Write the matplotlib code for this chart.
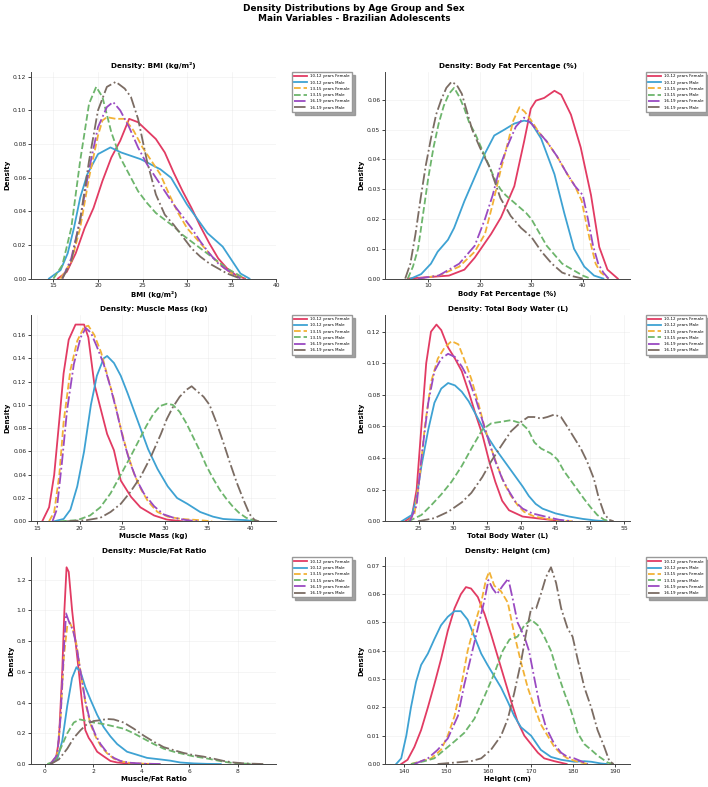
import matplotlib
matplotlib.use("Agg")
import matplotlib.pyplot as plt

# --- groups / styles ---
groups = ["10-12 years Female", "10-12 years Male", "13-15 years Female",
          "13-15 years Male", "16-19 years Female", "16-19 years Male"]
colors = ["#E23B63", "#3EA2D3", "#F2B236", "#6DB56C", "#9A4AC2", "#7B6C63"]
styles = ["-", "-", "--", "--", "-.", "-."]

# --- BMI (kg/m²): density curves ---
bmi_x_f10 = [15.5, 16.5, 17.5, 18.5, 19.5, 20.5, 21.5, 22.5, 23.5, 24.5, 25.5, 26.5, 27.5, 28.5, 29.5, 30.5, 31.5, 32.5, 33.5, 34.5, 35.5, 36.5]
bmi_y_f10 = [0, 0.004, 0.015, 0.03, 0.042, 0.058, 0.072, 0.082, 0.095, 0.093, 0.088, 0.083, 0.075, 0.063, 0.052, 0.042, 0.031, 0.021, 0.012, 0.006, 0.002, 0]
bmi_x_m10 = [14.5, 15.8, 16.6, 17.3, 18.0, 18.8, 20.0, 21.4, 22.6, 24.8, 27.0, 28.2, 30.0, 32.3, 34.0, 35.0, 36.0, 37.0]
bmi_y_m10 = [0, 0.005, 0.015, 0.03, 0.048, 0.062, 0.074, 0.078, 0.075, 0.071, 0.065, 0.06, 0.044, 0.027, 0.019, 0.011, 0.003, 0]
bmi_x_f13 = [15.8, 17, 18, 19, 20, 20.5, 21, 22, 23, 24, 25, 26, 27, 28, 29, 30, 31, 32, 33, 34, 35, 36, 36.5]
bmi_y_f13 = [0, 0.01, 0.03, 0.06, 0.085, 0.094, 0.096, 0.095, 0.095, 0.088, 0.078, 0.07, 0.062, 0.05, 0.039, 0.03, 0.024, 0.018, 0.012, 0.007, 0.003, 0.001, 0]
bmi_x_m13 = [15, 16, 17, 18, 19, 19.8, 20.5, 21.5, 22.5, 23.5, 24.5, 25.5, 26.5, 27.5, 28.5, 29.5, 30.5, 31.5, 32.5, 33.5, 34.5, 35.5, 36.5]
bmi_y_m13 = [0, 0.008, 0.03, 0.07, 0.104, 0.114, 0.108, 0.087, 0.072, 0.062, 0.052, 0.045, 0.039, 0.035, 0.031, 0.026, 0.022, 0.018, 0.014, 0.01, 0.006, 0.003, 0]
bmi_x_f16 = [16, 17, 18, 19, 20, 21, 21.7, 22.5, 23.5, 24.5, 25.5, 26.5, 27.5, 28.5, 29.5, 30.5, 31.5, 32.5, 33.5, 34.5, 35.5, 36]
bmi_y_f16 = [0, 0.012, 0.035, 0.065, 0.09, 0.102, 0.105, 0.1, 0.09, 0.078, 0.068, 0.06, 0.052, 0.044, 0.037, 0.03, 0.022, 0.015, 0.009, 0.005, 0.002, 0]
bmi_x_m16 = [16, 17, 18, 19, 20, 21, 22, 23, 23.7, 24.5, 25.5, 26.5, 27.5, 28.5, 29.5, 30.5, 31.5, 32.5, 33.5, 34.5, 35.5, 36]
bmi_y_m16 = [0, 0.01, 0.035, 0.07, 0.1, 0.114, 0.117, 0.113, 0.108, 0.095, 0.07, 0.05, 0.038, 0.032, 0.025, 0.018, 0.013, 0.009, 0.006, 0.003, 0.001, 0]

# --- Body Fat Percentage (%) ---
fat_x_f10 = [6, 10, 14, 17, 19, 21, 22.2, 24.1, 26.7, 28.6, 29.9, 30.9, 32.5, 34.5, 35.8, 37.7, 39.6, 41.6, 43.2, 44.8, 46.8]
fat_y_f10 = [0, 0.0005, 0.001, 0.003, 0.007, 0.012, 0.015, 0.0205, 0.031, 0.046, 0.057, 0.0597, 0.0606, 0.063, 0.0617, 0.055, 0.044, 0.028, 0.0106, 0.003, 0]
fat_x_m10 = [6.6, 8.6, 10.5, 11.8, 13.8, 15, 17, 19, 21, 22.8, 24.8, 26.7, 28.6, 29.9, 31.9, 34.5, 36.4, 38.3, 40.3, 42.2, 44]
fat_y_m10 = [0, 0.0015, 0.005, 0.009, 0.013, 0.017, 0.026, 0.034, 0.042, 0.048, 0.05, 0.052, 0.053, 0.0525, 0.047, 0.035, 0.022, 0.01, 0.004, 0.001, 0]
fat_x_f13 = [8, 12, 16, 19, 21, 22.5, 24, 25.5, 26.5, 27.7, 28.7, 30, 31.5, 33, 35, 37, 38.5, 39.8, 40.5, 41.5, 42.5, 43.5, 45]
fat_y_f13 = [0, 0.001, 0.004, 0.009, 0.015, 0.025, 0.036, 0.046, 0.053, 0.0575, 0.056, 0.053, 0.049, 0.046, 0.041, 0.035, 0.031, 0.026, 0.02, 0.012, 0.005, 0.002, 0]
fat_x_m13 = [6, 7, 8, 9, 10, 11, 12, 13, 14, 15, 16, 17, 18, 19, 20, 21, 22, 23, 24, 25, 26, 27, 28, 29, 30, 31, 32, 33, 34, 35, 36, 37, 38, 39, 40, 41.5]
fat_y_m13 = [0, 0.004, 0.01, 0.022, 0.034, 0.044, 0.052, 0.058, 0.062, 0.064, 0.061, 0.057, 0.052, 0.049, 0.045, 0.041, 0.037, 0.033, 0.03, 0.028, 0.0265, 0.025, 0.0235, 0.022, 0.02, 0.017, 0.014, 0.011, 0.009, 0.007, 0.005, 0.004, 0.003, 0.002, 0.001, 0]
fat_x_f16 = [8, 12, 16, 19, 21, 22.5, 24, 25.5, 27, 28.6, 30, 31.5, 33, 35, 37, 38.5, 40, 41, 42, 43, 44, 45]
fat_y_f16 = [0, 0.001, 0.005, 0.011, 0.02, 0.028, 0.038, 0.045, 0.051, 0.054, 0.052, 0.049, 0.046, 0.041, 0.035, 0.031, 0.028, 0.02, 0.011, 0.005, 0.002, 0]
fat_x_m16 = [5.5, 6.5, 7.5, 8.5, 9.5, 10.5, 11.5, 12.5, 13.5, 14.5, 15.5, 16.5, 17.5, 18.5, 20, 22, 24, 26, 28, 30, 32, 34, 36, 38, 40]
fat_y_m16 = [0, 0.005, 0.015, 0.027, 0.038, 0.047, 0.055, 0.06, 0.064, 0.066, 0.065, 0.062, 0.056, 0.05, 0.044, 0.037, 0.027, 0.021, 0.017, 0.014, 0.009, 0.005, 0.002, 0.0008, 0]

# --- Muscle Mass (kg) ---
mus_x_f10 = [15.6, 16.4, 17.0, 17.6, 18.1, 18.7, 19.5, 20.5, 21.0, 21.7, 22.5, 23.2, 24.0, 24.8, 26.0, 27.1, 28.7, 30.2, 32]
mus_y_f10 = [0, 0.012, 0.04, 0.087, 0.127, 0.156, 0.169, 0.169, 0.158, 0.118, 0.095, 0.075, 0.061, 0.035, 0.021, 0.012, 0.005, 0.0015, 0]
mus_x_m10 = [17, 18.1, 18.9, 19.7, 20.5, 21.3, 22, 22.8, 23.2, 24, 24.8, 25.6, 26.4, 27.2, 28, 29.1, 30.3, 31.4, 32.6, 34.1, 35.6, 36.8, 37.9, 39.5, 40.3]
mus_y_m10 = [0, 0.002, 0.01, 0.03, 0.06, 0.1, 0.125, 0.14, 0.142, 0.136, 0.125, 0.11, 0.094, 0.078, 0.062, 0.045, 0.03, 0.02, 0.015, 0.008, 0.004, 0.002, 0.0015, 0.001, 0]
mus_x_f13 = [16.4, 17, 17.6, 18.1, 18.9, 19.7, 20.5, 21, 21.7, 22.5, 23.2, 24, 24.8, 25.6, 26.4, 27.2, 28, 29.1, 30.3, 31.9, 34, 35.5]
mus_y_f13 = [0, 0.008, 0.04, 0.085, 0.13, 0.155, 0.167, 0.168, 0.16, 0.145, 0.126, 0.105, 0.08, 0.058, 0.04, 0.027, 0.017, 0.008, 0.004, 0.002, 0.001, 0]
mus_x_m13 = [17.7, 19.7, 21.2, 22.4, 23.6, 24.8, 25.9, 27.1, 27.8, 28.6, 29.4, 30.2, 30.9, 31.7, 32.5, 33.3, 34.1, 34.8, 35.6, 36.4, 37.2, 38, 38.7, 39.5, 40.3, 41]
mus_y_m13 = [0, 0.001, 0.005, 0.012, 0.024, 0.04, 0.055, 0.072, 0.082, 0.092, 0.099, 0.101, 0.1, 0.094, 0.084, 0.072, 0.06, 0.048, 0.037, 0.027, 0.019, 0.012, 0.007, 0.003, 0.001, 0]
mus_x_f16 = [16.8, 17.3, 17.9, 18.5, 19.3, 20.1, 20.7, 21.3, 22, 22.8, 23.6, 24.4, 25.1, 25.9, 26.7, 27.5, 28.7, 29.8, 31, 32.5, 34]
mus_y_f16 = [0, 0.01, 0.05, 0.095, 0.135, 0.158, 0.166, 0.162, 0.15, 0.135, 0.115, 0.092, 0.07, 0.05, 0.035, 0.024, 0.013, 0.006, 0.003, 0.001, 0]
mus_x_m16 = [18.5, 20.8, 22.4, 23.6, 24.8, 25.9, 27.1, 28.3, 29.5, 30.2, 30.9, 31.7, 32.5, 33.1, 33.7, 34.5, 35.2, 36, 36.8, 37.6, 38.4, 39.2, 39.9, 40.5, 41]
mus_y_m16 = [0, 0.001, 0.003, 0.008, 0.015, 0.025, 0.038, 0.055, 0.075, 0.088, 0.098, 0.107, 0.113, 0.116, 0.112, 0.107, 0.1, 0.085, 0.068, 0.05, 0.033, 0.018, 0.006, 0.001, 0]

# --- Total Body Water (L) ---
tbw_x_f10 = [23, 24, 24.7, 25.4, 26.1, 26.8, 27.6, 28.3, 29.3, 30.3, 31.3, 32.3, 33.3, 34.3, 35.3, 36.2, 37.2, 38.2, 39.2, 40.2, 42.1, 44.1, 46]
tbw_y_f10 = [0, 0.003, 0.02, 0.06, 0.1, 0.12, 0.1245, 0.121, 0.11, 0.103, 0.095, 0.082, 0.068, 0.055, 0.038, 0.025, 0.013, 0.007, 0.005, 0.003, 0.002, 0.001, 0]
tbw_x_m10 = [22.5, 24, 24.7, 25.4, 26.4, 27.3, 28.3, 29.3, 30.3, 31.3, 32.3, 33.3, 34.3, 35.3, 36.2, 37.2, 38.2, 39.2, 40.2, 41.1, 42.1, 43.1, 45, 47, 49, 50.9, 52.5]
tbw_y_m10 = [0, 0.004, 0.015, 0.035, 0.058, 0.075, 0.084, 0.0875, 0.086, 0.082, 0.076, 0.068, 0.06, 0.052, 0.046, 0.04, 0.034, 0.028, 0.022, 0.016, 0.011, 0.008, 0.005, 0.003, 0.0015, 0.0005, 0]
tbw_x_f13 = [23.5, 24.4, 25.2, 25.9, 26.8, 27.8, 28.8, 29.8, 30.8, 31.7, 32.7, 33.7, 34.6, 35.6, 36.6, 37.5, 38.5, 39.5, 40.4, 41.9, 43.8, 45.8, 47.5]
tbw_y_f13 = [0, 0.005, 0.03, 0.06, 0.088, 0.103, 0.11, 0.114, 0.112, 0.102, 0.09, 0.075, 0.06, 0.046, 0.034, 0.024, 0.016, 0.01, 0.006, 0.003, 0.0015, 0.0005, 0]
tbw_x_m13 = [23.5, 25.4, 26.8, 28.3, 29.8, 31.3, 32.7, 34.3, 35.6, 37.1, 38.5, 40, 41, 41.9, 42.9, 44.3, 45.3, 46.2, 47.2, 48.2, 49.2, 50.1, 51.1, 52.1, 53]
tbw_y_m13 = [0, 0.004, 0.01, 0.017, 0.025, 0.035, 0.046, 0.058, 0.062, 0.063, 0.064, 0.062, 0.058, 0.05, 0.046, 0.043, 0.039, 0.032, 0.026, 0.02, 0.014, 0.009, 0.004, 0.001, 0]
tbw_x_f16 = [23.7, 24.7, 25.4, 26.4, 27.3, 28.3, 29.3, 30.3, 31.3, 32.3, 33.3, 34.3, 35.3, 36.2, 37.2, 38.2, 39.2, 40.2, 41.6, 43.5, 45.5, 47.5]
tbw_y_f16 = [0, 0.01, 0.04, 0.075, 0.095, 0.103, 0.106, 0.104, 0.098, 0.09, 0.078, 0.064, 0.05, 0.038, 0.027, 0.019, 0.012, 0.008, 0.005, 0.003, 0.001, 0]
tbw_x_m16 = [24.9, 27.3, 29.3, 31.3, 32.7, 34.3, 35.6, 37.1, 38.5, 40, 41, 41.9, 42.9, 43.8, 44.8, 45.8, 46.7, 47.7, 48.7, 49.6, 50.6, 51.3, 52.1, 52.8, 53.5]
tbw_y_m16 = [0, 0.002, 0.006, 0.012, 0.018, 0.028, 0.038, 0.048, 0.057, 0.063, 0.066, 0.066, 0.065, 0.066, 0.0675, 0.066, 0.06, 0.053, 0.046, 0.038, 0.027, 0.015, 0.005, 0.001, 0]

# --- Muscle/Fat Ratio ---
mfr_x_f10 = [0.23, 0.44, 0.58, 0.72, 0.81, 0.9, 0.99, 1.13, 1.27, 1.41, 1.54, 1.68, 1.82, 1.95, 2.17, 2.44, 2.72, 3.0, 3.4, 4.0, 4.6]
mfr_y_f10 = [0, 0.02, 0.15, 0.6, 1.0, 1.28, 1.25, 1.0, 0.8, 0.6, 0.4, 0.22, 0.17, 0.14, 0.08, 0.05, 0.02, 0.01, 0.004, 0.001, 0]
mfr_x_m10 = [0.23, 0.51, 0.72, 0.93, 1.13, 1.31, 1.48, 1.68, 1.89, 2.17, 2.44, 2.72, 3.0, 3.41, 3.83, 4.24, 4.79, 5.2, 5.62, 6.17, 6.73, 7.3]
mfr_y_m10 = [0, 0.03, 0.15, 0.38, 0.56, 0.63, 0.6, 0.5, 0.42, 0.32, 0.24, 0.18, 0.13, 0.08, 0.06, 0.04, 0.03, 0.022, 0.01, 0.004, 0.001, 0]
mfr_x_f13 = [0.23, 0.51, 0.65, 0.79, 0.93, 1.04, 1.17, 1.31, 1.48, 1.68, 1.89, 2.1, 2.31, 2.58, 2.86, 3.14, 3.55, 4.1, 4.8]
mfr_y_f13 = [0, 0.06, 0.3, 0.7, 0.9, 0.92, 0.87, 0.78, 0.6, 0.4, 0.26, 0.18, 0.12, 0.07, 0.035, 0.018, 0.007, 0.002, 0]
mfr_x_m13 = [0.1, 0.44, 0.65, 0.93, 1.2, 1.45, 1.75, 2.03, 2.44, 2.86, 3.27, 3.69, 4.1, 4.52, 4.93, 5.35, 5.76, 6.17, 6.59, 7.0, 7.42, 7.83, 8.38, 9.07]
mfr_y_m13 = [0, 0.02, 0.1, 0.2, 0.27, 0.29, 0.28, 0.27, 0.26, 0.245, 0.23, 0.2, 0.165, 0.13, 0.1, 0.08, 0.065, 0.05, 0.04, 0.028, 0.015, 0.006, 0.002, 0]
mfr_x_f16 = [0.23, 0.51, 0.65, 0.79, 0.88, 0.99, 1.17, 1.31, 1.48, 1.68, 1.89, 2.1, 2.31, 2.58, 2.86, 3.14, 3.55, 4.1, 4.8]
mfr_y_f16 = [0, 0.06, 0.3, 0.75, 0.98, 0.93, 0.87, 0.77, 0.6, 0.41, 0.27, 0.19, 0.13, 0.075, 0.04, 0.02, 0.008, 0.002, 0]
mfr_x_m16 = [0.23, 0.58, 0.93, 1.2, 1.48, 1.75, 2.03, 2.31, 2.58, 2.86, 3.27, 3.69, 4.1, 4.52, 4.93, 5.35, 5.76, 6.17, 6.59, 7.0, 7.42, 7.83, 8.38, 9.07]
mfr_y_m16 = [0, 0.03, 0.1, 0.17, 0.22, 0.26, 0.28, 0.285, 0.293, 0.29, 0.27, 0.23, 0.185, 0.145, 0.11, 0.09, 0.072, 0.058, 0.048, 0.035, 0.02, 0.01, 0.003, 0]

# --- Height (cm) ---
hgt_x_f10 = [139.4, 140.9, 142.5, 144.1, 145.7, 147.2, 148.8, 150.4, 152, 153.5, 154.7, 155.9, 157.5, 159.1, 160.6, 162.2, 163.8, 165.4, 166.9, 168.5, 170.1, 171.7, 173.2, 175.6, 178.5]
hgt_y_f10 = [0, 0.0015, 0.006, 0.012, 0.02, 0.028, 0.037, 0.047, 0.055, 0.06, 0.0625, 0.062, 0.059, 0.053, 0.046, 0.038, 0.03, 0.022, 0.015, 0.01, 0.007, 0.004, 0.002, 0.001, 0]
hgt_x_m10 = [138.2, 139.4, 140.6, 141.7, 142.9, 144.1, 145.7, 147.2, 148.8, 150.4, 152, 153.5, 155.1, 156.7, 158.3, 159.8, 161.4, 163, 164.6, 166.1, 167.7, 170.1, 172.4, 174.8, 177.2, 180.3, 182.7, 184.3, 186.6, 188]
hgt_y_m10 = [0, 0.002, 0.01, 0.02, 0.029, 0.035, 0.039, 0.044, 0.049, 0.052, 0.054, 0.054, 0.051, 0.045, 0.039, 0.035, 0.031, 0.027, 0.022, 0.017, 0.013, 0.01, 0.005, 0.0025, 0.0015, 0.0008, 0.001, 0.0008, 0.0002, 0]
hgt_x_f13 = [141.7, 144.1, 146.5, 148.8, 150.4, 152, 153.5, 155.1, 156.7, 158.3, 159.4, 160.2, 161.4, 163, 164.6, 166.1, 167.7, 169.3, 170.9, 172.4, 174, 175.6, 177.2, 178.7, 181.1, 183.5]
hgt_y_f13 = [0, 0.001, 0.002, 0.005, 0.01, 0.017, 0.027, 0.04, 0.049, 0.057, 0.065, 0.068, 0.063, 0.061, 0.057, 0.046, 0.036, 0.027, 0.02, 0.014, 0.01, 0.006, 0.0035, 0.002, 0.0008, 0]
hgt_x_m13 = [141.7, 144.9, 147.2, 149.6, 152, 154.3, 156.7, 159.1, 161.4, 163.4, 165, 166.9, 168.5, 170.1, 171.7, 173.2, 174.8, 176.4, 178, 179.5, 181.1, 182.7, 184.3, 185.8, 188.2, 189.5]
hgt_y_m13 = [0, 0.001, 0.002, 0.005, 0.008, 0.011, 0.016, 0.024, 0.032, 0.04, 0.044, 0.045, 0.049, 0.051, 0.049, 0.045, 0.04, 0.032, 0.025, 0.019, 0.011, 0.007, 0.005, 0.003, 0.0005, 0]
hgt_x_f16 = [142.5, 145.7, 148, 150.4, 152.8, 154.3, 155.9, 157.5, 159.1, 160, 161, 162, 163.4, 164.7, 165.8, 166.9, 168.5, 169.6, 170.9, 172.1, 173.6, 175.6, 177.2, 178.7, 180.3, 181.9, 183.5]
hgt_y_f16 = [0, 0.002, 0.005, 0.009, 0.017, 0.028, 0.038, 0.048, 0.058, 0.065, 0.062, 0.06, 0.063, 0.0655, 0.058, 0.05, 0.045, 0.04, 0.03, 0.021, 0.013, 0.007, 0.004, 0.0025, 0.002, 0.001, 0]
hgt_x_m16 = [148, 152, 155.9, 158.3, 160.6, 163, 164.6, 166.1, 167.7, 168.9, 170.1, 171.3, 172.4, 173.6, 174.8, 176, 177.2, 178.7, 179.9, 181.1, 182.7, 184.3, 185.8, 187.4, 188.6, 189.6]
hgt_y_m16 = [0, 0.0005, 0.001, 0.002, 0.005, 0.01, 0.016, 0.025, 0.036, 0.046, 0.055, 0.055, 0.06, 0.066, 0.0695, 0.064, 0.055, 0.048, 0.045, 0.037, 0.027, 0.02, 0.012, 0.006, 0.001, 0]

panels = [
    ("BMI (kg/m²)", (12.5, 40),
     [(bmi_x_f10, bmi_y_f10), (bmi_x_m10, bmi_y_m10), (bmi_x_f13, bmi_y_f13),
      (bmi_x_m13, bmi_y_m13), (bmi_x_f16, bmi_y_f16), (bmi_x_m16, bmi_y_m16)]),
    ("Body Fat Percentage (%)", (1.6, 49.2),
     [(fat_x_f10, fat_y_f10), (fat_x_m10, fat_y_m10), (fat_x_f13, fat_y_f13),
      (fat_x_m13, fat_y_m13), (fat_x_f16, fat_y_f16), (fat_x_m16, fat_y_m16)]),
    ("Muscle Mass (kg)", (14.3, 43),
     [(mus_x_f10, mus_y_f10), (mus_x_m10, mus_y_m10), (mus_x_f13, mus_y_f13),
      (mus_x_m13, mus_y_m13), (mus_x_f16, mus_y_f16), (mus_x_m16, mus_y_m16)]),
    ("Total Body Water (L)", (20.1, 55.9),
     [(tbw_x_f10, tbw_y_f10), (tbw_x_m10, tbw_y_m10), (tbw_x_f13, tbw_y_f13),
      (tbw_x_m13, tbw_y_m13), (tbw_x_f16, tbw_y_f16), (tbw_x_m16, tbw_y_m16)]),
    ("Muscle/Fat Ratio", (-0.57, 9.6),
     [(mfr_x_f10, mfr_y_f10), (mfr_x_m10, mfr_y_m10), (mfr_x_f13, mfr_y_f13),
      (mfr_x_m13, mfr_y_m13), (mfr_x_f16, mfr_y_f16), (mfr_x_m16, mfr_y_m16)]),
    ("Height (cm)", (135.6, 193.5),
     [(hgt_x_f10, hgt_y_f10), (hgt_x_m10, hgt_y_m10), (hgt_x_f13, hgt_y_f13),
      (hgt_x_m13, hgt_y_m13), (hgt_x_f16, hgt_y_f16), (hgt_x_m16, hgt_y_m16)]),
]


def main():
    fig, axes = plt.subplots(3, 2, figsize=(7.08, 7.87), dpi=100)
    fig.subplots_adjust(left=0.044, right=0.89, top=0.9085, bottom=0.0292,
                        wspace=0.445, hspace=0.175)

    for ax, (name, xlim, curves) in zip(axes.flat, panels):
        ymax = 0
        for (x, y), label, c, ls in zip(curves, groups, colors, styles):
            ax.plot(x, y, color=c, linestyle=ls, linewidth=1.3, label=label)
            ymax = max(ymax, max(y))
        ax.set_xlim(*xlim)
        ax.set_ylim(0, ymax * 1.05)
        ax.set_title(f"Density: {name}", fontsize=5.2, fontweight="bold", pad=3)
        ax.set_xlabel(name, fontsize=5, fontweight="bold", labelpad=1.5)
        ax.set_ylabel("Density", fontsize=5, fontweight="bold", labelpad=2)
        ax.tick_params(labelsize=4.3, length=2, width=0.6, pad=1.5, colors="#222222")
        ax.grid(True, color="#dddddd", linewidth=0.4, alpha=0.5)
        for s in ["top", "right"]:
            ax.spines[s].set_visible(False)
        for s in ["left", "bottom"]:
            ax.spines[s].set_linewidth(0.7)
            ax.spines[s].set_color("#444444")
        ax.legend(loc="upper left", bbox_to_anchor=(1.065, 1.0), borderaxespad=0,
                  fontsize=2.9, frameon=True, fancybox=False,
                  shadow={"color": "0.55", "alpha": 0.8},
                  handlelength=3, edgecolor="#999999", borderpad=0.6,
                  labelspacing=0.55)

    fig.suptitle("Density Distributions by Age Group and Sex\nMain Variables - Brazilian Adolescents",
                 fontsize=6.4, fontweight="bold", y=0.995, linespacing=1.15)
    fig.savefig("out.png", dpi=100)
    plt.close(fig)


if __name__ == "__main__":
    main()
